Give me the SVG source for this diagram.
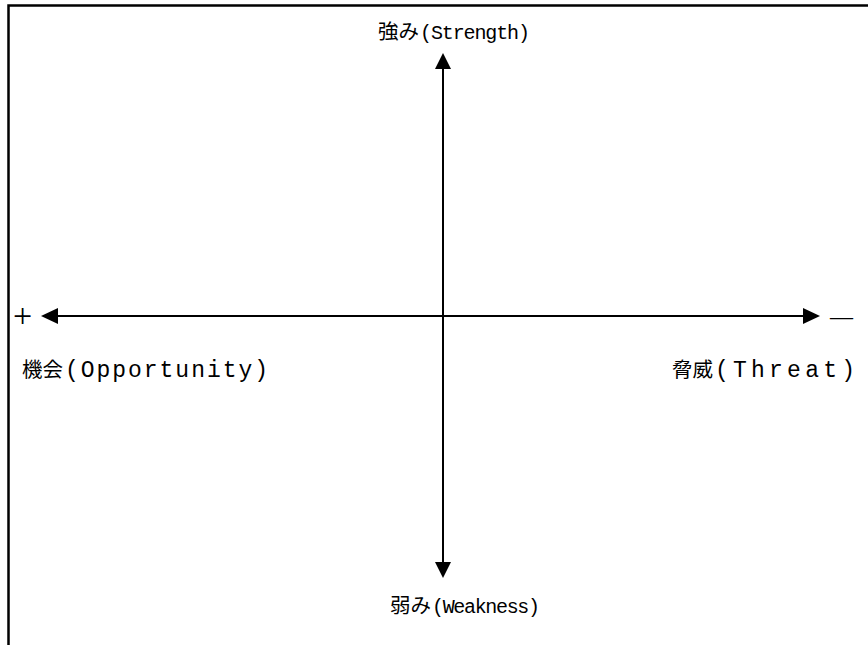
<svg xmlns="http://www.w3.org/2000/svg" width="868" height="645" viewBox="0 0 868 645">
<style>
.cjk{font-family:"Noto Sans CJK JP",sans-serif;font-size:20.5px;fill:#000}
.lat{font-family:"Liberation Mono",monospace;font-size:20px;fill:#000}
.big{font-size:23px}
.sign{font-family:"Liberation Serif",serif;fill:#000}
.axis{stroke:#000;stroke-width:2;fill:none}
.frame{stroke:#000;stroke-width:2.5;fill:none}
.head{fill:#000}
</style>
<path class="frame" d="M8.5,645 V5.5 H868"/>
<g id="connectors">
<line class="axis" x1="443" y1="66" x2="443" y2="564"/>
<path class="head" d="M443,53 L435,69 L451,69 z"/>
<path class="head" d="M443,578 L435,562 L451,562 z"/>
<line class="axis" x1="55" y1="316" x2="806" y2="316"/>
<path class="head" d="M41,316 L58,308 L58,324 z"/>
<path class="head" d="M820,316 L803,308 L803,324 z"/>
</g>
<g id="strength"><text class="cjk" x="378" y="39">強み</text><text class="lat" x="420" y="39" textLength="110" lengthAdjust="spacing">(Strength)</text></g>
<g id="weakness"><text class="cjk" x="390" y="613">弱み</text><text class="lat" x="432" y="613" textLength="108" lengthAdjust="spacing">(Weakness)</text></g>
<g id="opportunity"><text class="cjk" x="22" y="377" font-size="21.5">機会</text><text class="lat big" x="65" y="377" textLength="203" lengthAdjust="spacing">(Opportunity)</text><text class="sign" x="13" y="327" font-size="34">+</text></g>
<g id="threat"><text class="cjk" x="672" y="377" font-size="21.5">脅威</text><text class="lat big" x="715" y="377" textLength="140" lengthAdjust="spacing">(Threat)</text><text class="sign" x="830" y="324" font-size="23">—</text></g>
</svg>
